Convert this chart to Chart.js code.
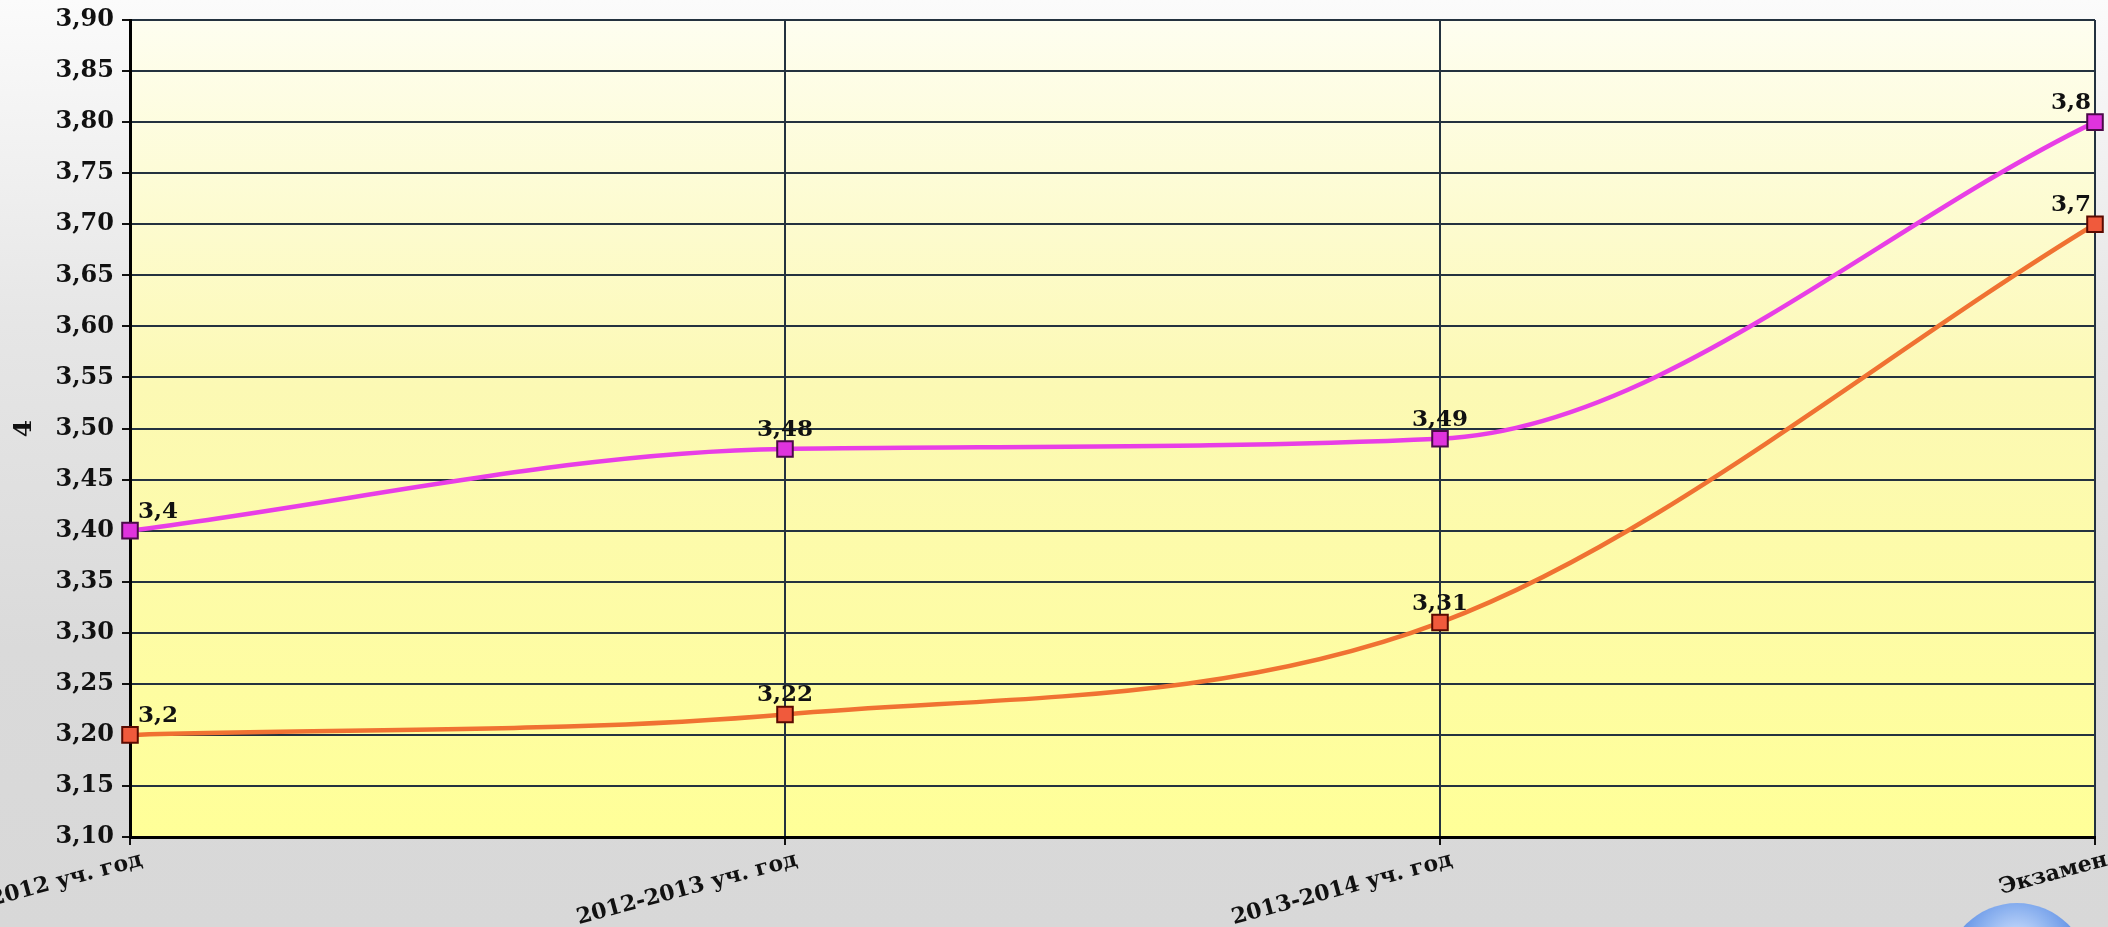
<!DOCTYPE html>
<html lang="ru">
<head>
<meta charset="utf-8">
<title>Средний балл</title>
<script src="https://cdn.jsdelivr.net/npm/chart.js@4.4.1/dist/chart.umd.min.js"></script>
<style>
  html, body { margin: 0; padding: 0; width: 2108px; height: 927px; overflow: hidden; }
  body { background: linear-gradient(to bottom, #fbfbfb 0%, #e6e6e6 35%, #dadada 70%, #d8d8d8 100%); position: relative; }
  #wrap { position: absolute; left: 0; top: 0; width: 2108px; height: 927px; }
  .knob { position: absolute; left: 1945px; top: 903px; width: 144px; height: 144px; border-radius: 50%;
          background: radial-gradient(circle at 50% 30%, #dce9ff 0%, #8fb4f0 30%, #4a7fe0 60%, #2f5fc4 100%); }
</style>
</head>
<body>
<div id="wrap"><canvas id="chart"></canvas></div>
<div class="knob"></div>
<script>
// Categories (school years + exam)
const categories = ['2011-2012 уч. год', '2012-2013 уч. год', '2013-2014 уч. год', 'Экзамен'];

// Series values
const seriesPink = [3.4, 3.48, 3.49, 3.8];
const seriesOrange = [3.2, 3.22, 3.31, 3.7];

// Y axis range
const yMin = 3.10;
const yMax = 3.90;
const yStep = 0.05;

const yTitle = '4';

const fontFamily = '"DejaVu Serif", "Liberation Serif", serif';
const gridColor = '#24323f';

const fmtComma = v => String(v).replace('.', ',');

// plot area background (pale yellow gradient)
const plotBackground = {
    id: 'plotBackground',
    beforeDraw(chart) {
        const { ctx, chartArea: a } = chart;
        const g = ctx.createLinearGradient(0, a.top, 0, a.bottom);
        g.addColorStop(0, '#fefef0');
        g.addColorStop(0.45, '#fcf9b4');
        g.addColorStop(1, '#ffff98');
        ctx.save();
        ctx.fillStyle = g;
        ctx.fillRect(a.left, a.top, a.right - a.left, a.bottom - a.top);
        ctx.restore();
    }
};

// value labels above points, kept inside the plot area
const valueLabels = {
    id: 'valueLabels',
    afterDatasetsDraw(chart) {
        const { ctx, chartArea: a } = chart;
        ctx.save();
        ctx.font = 'bold 23px ' + fontFamily;
        ctx.fillStyle = '#111';
        ctx.textBaseline = 'alphabetic';
        chart.data.datasets.forEach((ds, di) => {
            const meta = chart.getDatasetMeta(di);
            meta.data.forEach((pt, i) => {
                const text = fmtComma(ds.data[i]);
                const w = ctx.measureText(text).width;
                let x = pt.x;
                ctx.textAlign = 'center';
                if (x - w / 2 < a.left + 8) { ctx.textAlign = 'left'; x = a.left + 8; }
                else if (x + w / 2 > a.right - 4) { ctx.textAlign = 'right'; x = a.right - 4; }
                ctx.fillText(text, x, pt.y - 13);
            });
        });
        ctx.restore();
    }
};

const canvas = document.getElementById('chart');
canvas.width = 2108;
canvas.height = 927;

new Chart(canvas, {
    type: 'line',
    data: {
        labels: categories,
        datasets: [
            {
                label: 'Ряд 1',
                data: seriesPink,
                borderColor: '#e83ee6',
                borderWidth: 4.5,
                backgroundColor: '#e033dd',
                pointStyle: 'rect',
                pointRadius: 11,
                pointHoverRadius: 11,
                pointBorderWidth: 2,
                pointBorderColor: '#4a0a48',
                pointBackgroundColor: '#e033dd',
                cubicInterpolationMode: 'monotone',
                clip: false
            },
            {
                label: 'Ряд 2',
                data: seriesOrange,
                borderColor: '#f07232',
                borderWidth: 4.5,
                backgroundColor: '#f05a3c',
                pointStyle: 'rect',
                pointRadius: 11,
                pointHoverRadius: 11,
                pointBorderWidth: 2,
                pointBorderColor: '#5a0a00',
                pointBackgroundColor: '#f05a3c',
                cubicInterpolationMode: 'monotone',
                clip: false
            }
        ]
    },
    options: {
        responsive: false,
        animation: false,
        layout: { padding: { top: 20, right: 3, left: 0, bottom: 0 } },
        plugins: {
            legend: { display: false },
            tooltip: { enabled: false }
        },
        scales: {
            x: {
                offset: false,
                grid: { color: gridColor, lineWidth: 2, tickLength: 8, tickColor: '#111' },
                border: { display: true, color: '#000', width: 3 },
                ticks: {
                    autoSkip: false,
                    minRotation: 15,
                    maxRotation: 15,
                    padding: 2,
                    labelOffset: 12,
                    color: '#111',
                    font: { family: fontFamily, size: 22, weight: 'bold' }
                },
                afterFit(scale) {
                    scale.height = 90;
                    scale.paddingLeft = 0;
                    scale.paddingRight = 0;
                }
            },
            y: {
                min: yMin,
                max: yMax,
                grid: { color: gridColor, lineWidth: 2, tickLength: 8, tickColor: '#111' },
                border: { display: true, color: '#000', width: 3 },
                ticks: {
                    stepSize: yStep,
                    padding: 8,
                    color: '#111',
                    font: { family: fontFamily, size: 24, weight: 'bold' },
                    callback: v => v.toFixed(2).replace('.', ',')
                },
                title: {
                    display: true,
                    text: yTitle,
                    color: '#111',
                    padding: { top: 9, bottom: 0 },
                    font: { family: fontFamily, size: 25, weight: 'bold' }
                },
                afterFit(scale) {
                    scale.width = 130;
                    scale.paddingTop = 0;
                    scale.paddingBottom = 0;
                }
            }
        }
    },
    plugins: [plotBackground, valueLabels]
});
</script>
</body>
</html>
